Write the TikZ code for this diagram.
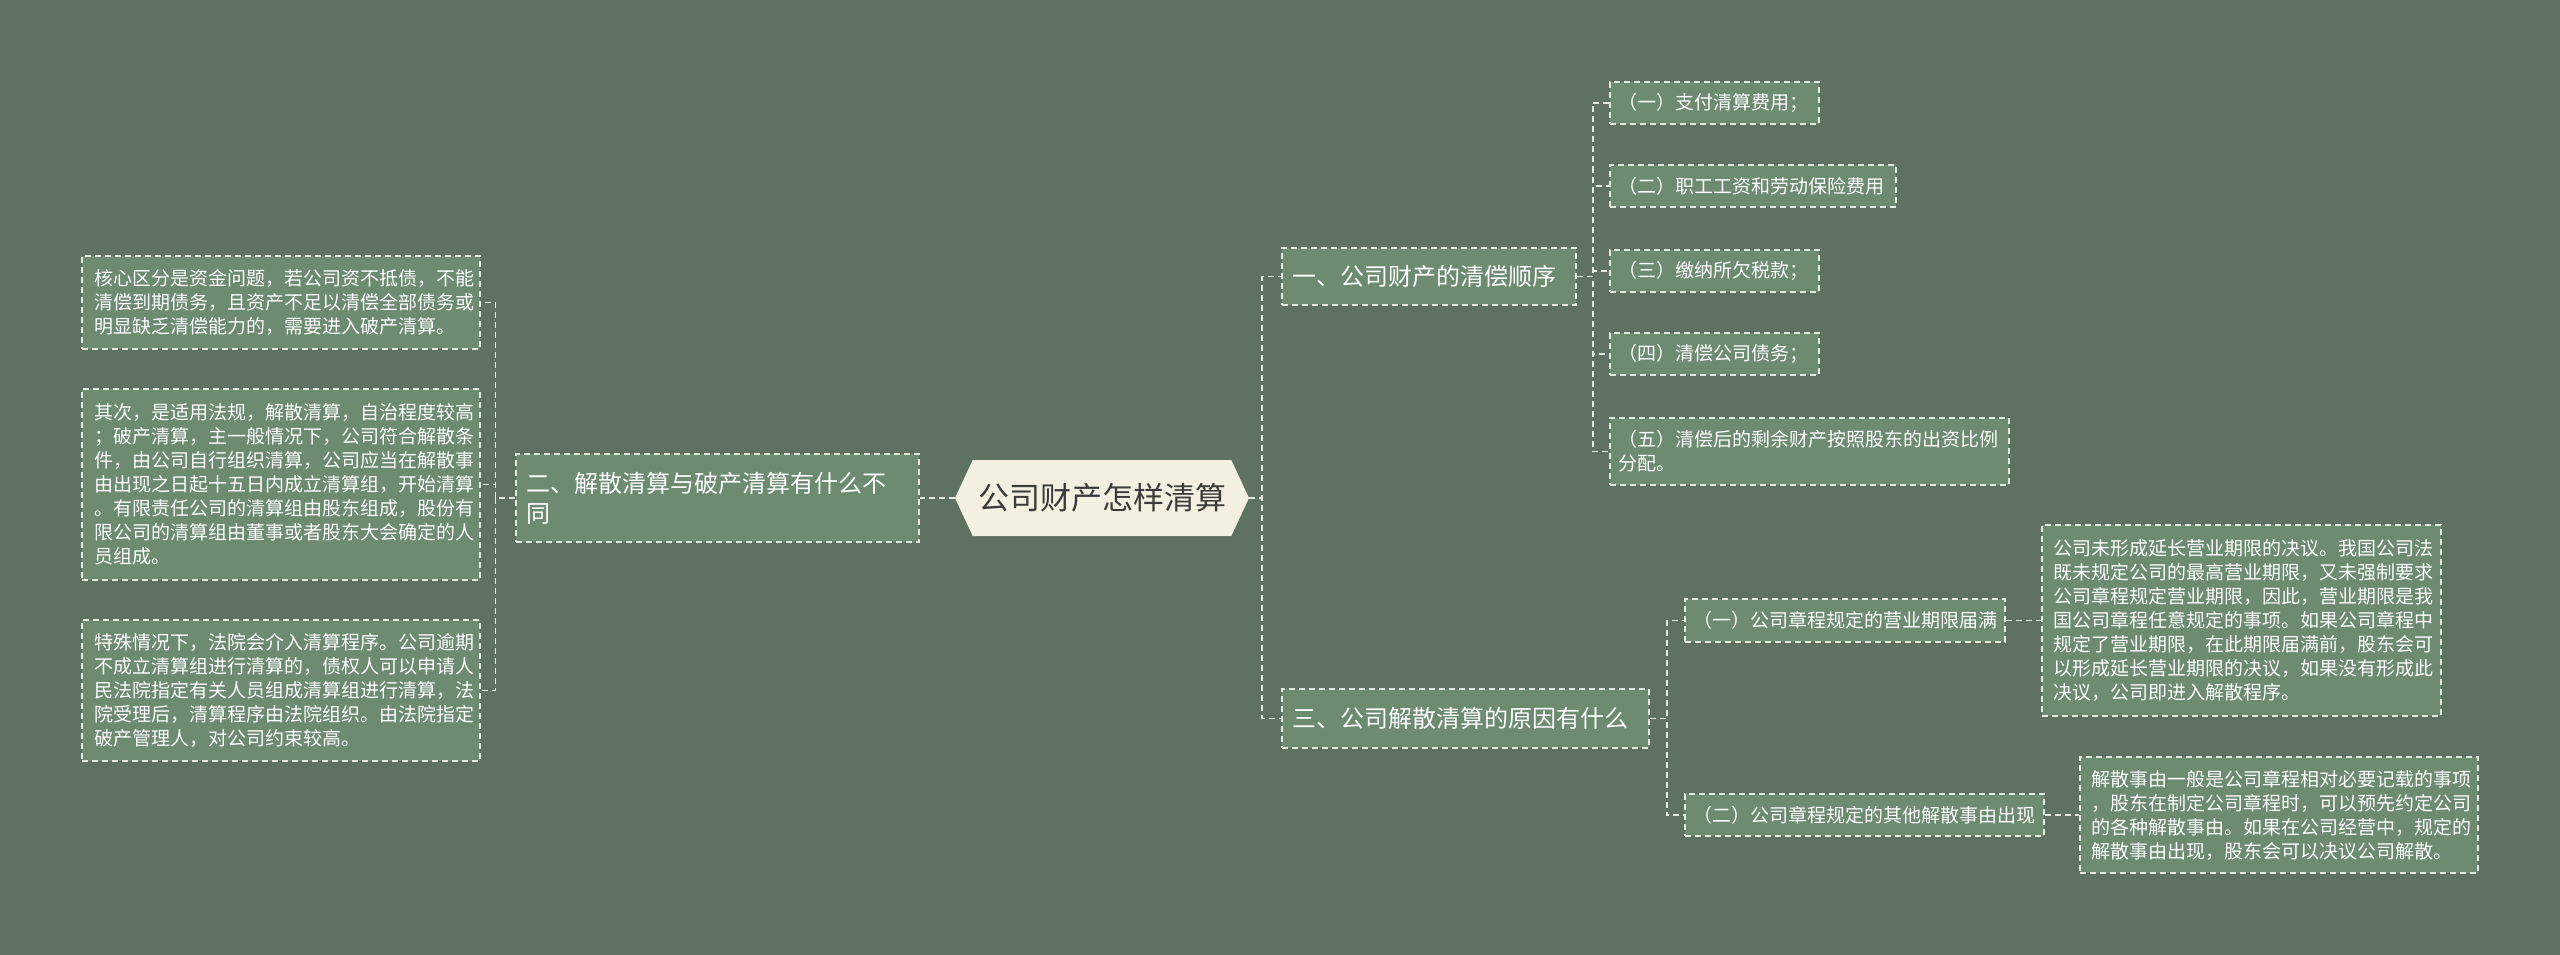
\documentclass[tikz,border=0pt]{standalone}
\usepackage{fontspec}
\newfontfamily\cjk{Noto Sans CJK SC}
\usetikzlibrary{shapes.symbols}
\definecolor{bgC}{HTML}{5F7262}
\definecolor{boxC}{HTML}{6C8B71}
\definecolor{lineC}{HTML}{E3EADF}
\definecolor{rootC}{HTML}{F4F0E1}
\definecolor{rootT}{HTML}{3B3B3B}
\tikzset{
 box/.style={draw=lineC, fill=boxC, line width=1.5pt, dash pattern=on 6pt off 4pt, text=white, inner sep=0pt, align=left, font=\cjk\fontsize{19}{24}\selectfont},
 lvone/.style={box, font=\cjk\fontsize{24}{30}\selectfont},
 conn/.style={draw=lineC, line width=1.5pt, dash pattern=on 6pt off 4pt},
}
\begin{document}
\begin{tikzpicture}[x=1pt,y=-1pt]
\fill[bgC] (0,0) rectangle (2560,955);
\useasboundingbox (0,0) rectangle (2560,955);
\node[signal, signal to=west and east, signal pointer angle=130, fill=rootC, draw=none, minimum width=294, minimum height=76, inner sep=0pt, text=rootT, font=\cjk\fontsize{31}{36}\selectfont] (root) at (1102,498) {公司财产怎样清算};
% left
\node[lvone, minimum width=403, minimum height=88, text width=383] (l1) at (717.5,498) {二、解散清算与破产清算有什么不\\同};
\node[box, minimum width=398, minimum height=93, text width=374] (la) at (281,302.5) {核心区分是资金问题，若公司资不抵债，不能\\清偿到期债务，且资产不足以清偿全部债务或\\明显缺乏清偿能力的，需要进入破产清算。};
\node[box, minimum width=398, minimum height=191, text width=374] (lb) at (281,484.5) {其次，是适用法规，解散清算，自治程度较高\\；破产清算，主一般情况下，公司符合解散条\\件，由公司自行组织清算，公司应当在解散事\\由出现之日起十五日内成立清算组，开始清算\\。有限责任公司的清算组由股东组成，股份有\\限公司的清算组由董事或者股东大会确定的人\\员组成。};
\node[box, minimum width=398, minimum height=141, text width=374] (lc) at (281,690.5) {特殊情况下，法院会介入清算程序。公司逾期\\不成立清算组进行清算的，债权人可以申请人\\民法院指定有关人员组成清算组进行清算，法\\院受理后，清算程序由法院组织。由法院指定\\破产管理人，对公司约束较高。};
% right level one
\node[lvone, minimum width=294, minimum height=57, text width=274] (r1) at (1429,276.5) {一、公司财产的清偿顺序};
\node[lvone, minimum width=367, minimum height=59, text width=347] (r3) at (1465.5,718.5) {三、公司解散清算的原因有什么};
% leaves of r1
\node[box, minimum width=209, minimum height=42, text width=193] (a1) at (1714.5,103) {（一）支付清算费用；};
\node[box, minimum width=286, minimum height=42, text width=270] (a2) at (1753,186) {（二）职工工资和劳动保险费用};
\node[box, minimum width=209, minimum height=42, text width=193] (a3) at (1714.5,271) {（三）缴纳所欠税款；};
\node[box, minimum width=209, minimum height=42, text width=193] (a4) at (1714.5,354) {（四）清偿公司债务；};
\node[box, minimum width=399, minimum height=67, text width=383] (a5) at (1809.5,451.5) {（五）清偿后的剩余财产按照股东的出资比例\\分配。};
% leaves of r3
\node[box, minimum width=320, minimum height=43, text width=304] (b1) at (1845,620.5) {（一）公司章程规定的营业期限届满};
\node[box, minimum width=359, minimum height=42, text width=343] (b2) at (1864.5,815) {（二）公司章程规定的其他解散事由出现};
\node[box, minimum width=399, minimum height=191, text width=377] (tA) at (2241.5,620.5) {公司未形成延长营业期限的决议。我国公司法\\既未规定公司的最高营业期限，又未强制要求\\公司章程规定营业期限，因此，营业期限是我\\国公司章程任意规定的事项。如果公司章程中\\规定了营业期限，在此期限届满前，股东会可\\以形成延长营业期限的决议，如果没有形成此\\决议，公司即进入解散程序。};
\node[box, minimum width=398, minimum height=116, text width=376] (tB) at (2279,815) {解散事由一般是公司章程相对必要记载的事项\\，股东在制定公司章程时，可以预先约定公司\\的各种解散事由。如果在公司经营中，规定的\\解散事由出现，股东会可以决议公司解散。};
% connectors
\draw[conn] (root.west) -- (l1.east);
\foreach \n in {la,lb,lc} \draw[conn] (l1.west) -- ++(-20,0) |- (\n.east);
\foreach \n in {r1,r3} \draw[conn] (root.east) -- ++(13,0) |- (\n.west);
\foreach \n in {a1,a2,a3,a4,a5} \draw[conn] (r1.east) -- ++(16,0) |- (\n.west);
\foreach \n in {b1,b2} \draw[conn] (r3.east) -- ++(17,0) |- (\n.west);
\draw[conn] (b1.east) -- (tA.west);
\draw[conn] (b2.east) -- (tB.west);
\end{tikzpicture}
\end{document}
